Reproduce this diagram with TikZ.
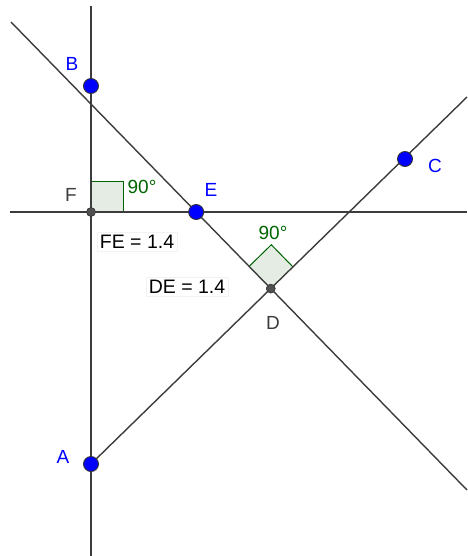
\documentclass[tikz,border=0pt]{standalone}
\usepackage{fontspec}
\setmainfont{Liberation Sans}
\usetikzlibrary{calc}
\definecolor{ln}{RGB}{60,60,60}
\definecolor{ptblue}{RGB}{0,0,255}
\definecolor{angg}{RGB}{0,100,0}
\definecolor{angfill}{RGB}{228,236,228}
\begin{document}
\begin{tikzpicture}[x=1pt,y=-1pt,
  geoline/.style={draw=ln,line width=1.4pt},
  freept/.style={circle,fill=ptblue,draw=black!80,line width=0.9pt,inner sep=0pt,minimum size=15pt},
  deppt/.style={circle,fill=ln!90,draw=black!80,line width=0.6pt,inner sep=0pt,minimum size=9pt},
  bluelab/.style={text=ptblue,font=\fontsize{19}{19}\selectfont},
  graylab/.style={text=ln,font=\fontsize{19}{19}\selectfont},
  anglab/.style={text=angg,font=\fontsize{19}{19}\selectfont},
  valbox/.style={fill=white,draw=black!5,line width=0.5pt,inner sep=3pt,font=\fontsize{19.5}{19.5}\selectfont}]
\useasboundingbox (0,0) rectangle (467,556);
% line end points
\coordinate (vtop) at (91,6);
\coordinate (vbot) at (91,556);
\coordinate (hl) at (10,212);
\coordinate (hr) at (467,212);
\coordinate (l1a) at (11,22);
\coordinate (l1b) at (467,490);
\coordinate (A) at (91,464);
\coordinate (l2b) at (467,97);
\coordinate (F) at (91,212);
\coordinate (D) at (intersection of l1a--l1b and A--l2b);
\coordinate (E) at (intersection of l1a--l1b and hl--hr);
\coordinate (B) at (91,86);
% right-angle markers
\fill[angfill] (F) rectangle (123,181);
\draw[angg,line width=1pt] (91,181) -- (123,181) -- (123,212);
\path (D) -- ($(D)!31pt!(l1a)$) coordinate (sq1);
\path (D) -- ($(D)!31pt!(l2b)$) coordinate (sq2);
\coordinate (sq3) at ($(sq1)+(sq2)-(D)$);
\fill[angfill] (D) -- (sq1) -- (sq3) -- (sq2) -- cycle;
\draw[angg,line width=1pt] (sq1) -- (sq3) -- (sq2);
% lines
\draw[geoline] (vtop) -- (vbot);
\draw[geoline] (hl) -- (hr);
\draw[geoline] (l1a) -- (l1b);
\draw[geoline] (A) -- (l2b);
% angle labels
\node[anglab] (a1) at (142,187) {90°};
\node[anglab] (a2) at (273,233) {90°};
% value boxes
\node[valbox] (fe) at (137,242) {FE = 1.4};
\node[valbox] (de) at (187,287) {DE = 1.4};
% points
\node[freept] (pB) at (B) {};
\node[freept] (pE) at (E) {};
\node[freept] (pC) at (405,159) {};
\node[freept] (pA) at (A) {};
\node[deppt] (pF) at (F) {};
\node[deppt] (pD) at (D) {};
% point labels
\node[bluelab] (lB) at (72,64) {B};
\node[bluelab] (lE) at (211,190) {E};
\node[bluelab] (lC) at (435,166) {C};
\node[bluelab] (lA) at (63,457) {A};
\node[graylab] (lF) at (71,195) {F};
\node[graylab] (lD) at (273,323) {D};
\end{tikzpicture}
\end{document}
